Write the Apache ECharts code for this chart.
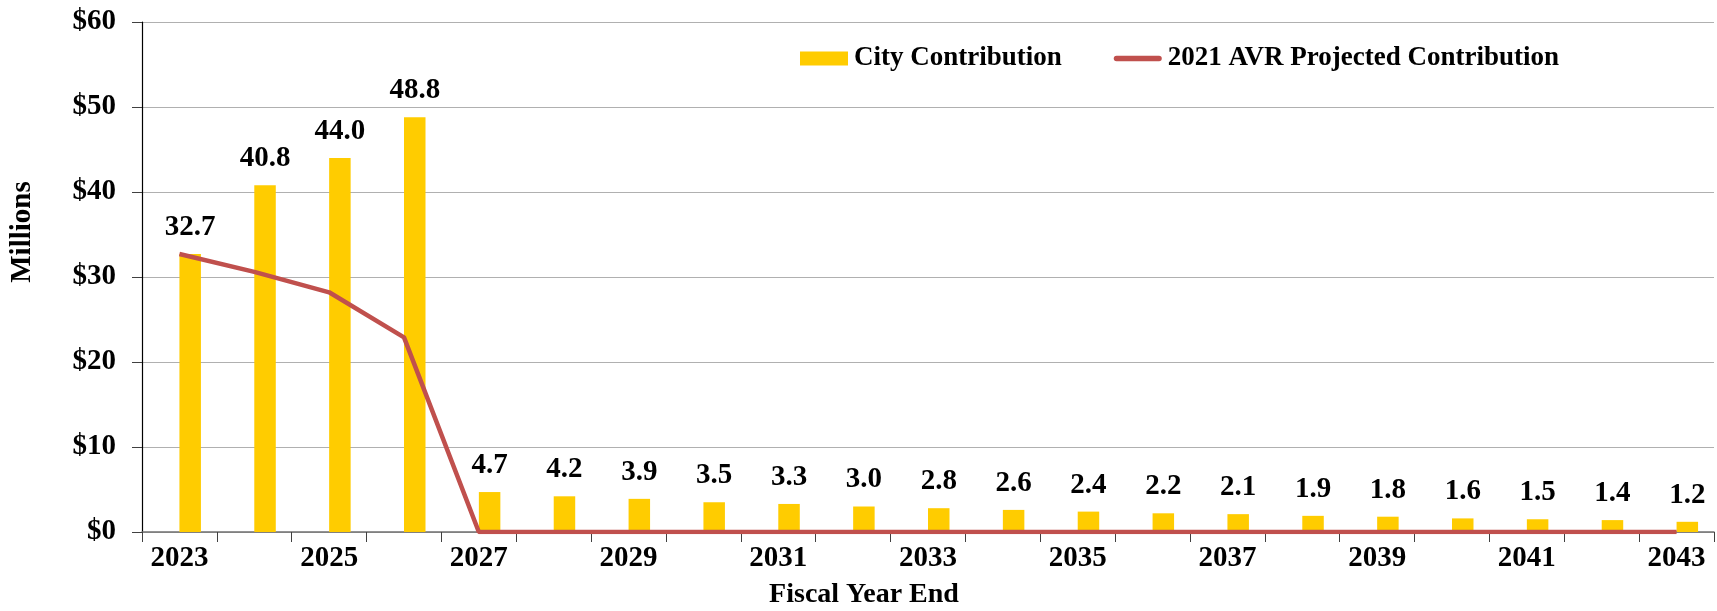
<!DOCTYPE html>
<html>
<head>
<meta charset="utf-8">
<title>City Contribution</title>
<script src="https://cdn.jsdelivr.net/npm/echarts@6/dist/echarts.min.js"></script>
<style>
  html, body { margin: 0; padding: 0; background: #fff; }
  #main { width: 1717px; height: 611px; }
</style>
</head>
<body>
<div id="main"></div>
<script type="text/javascript">
// fiscal years and values (millions)
var years = ['2023','2024','2025','2026','2027','2028','2029','2030','2031','2032','2033',
             '2034','2035','2036','2037','2038','2039','2040','2041','2042','2043'];
var cityContribution = [32.7, 40.8, 44.0, 48.8, 4.7, 4.2, 3.9, 3.5, 3.3, 3.0, 2.8,
                        2.6, 2.4, 2.2, 2.1, 1.9, 1.8, 1.6, 1.5, 1.4, 1.2];
var avrProjected = [32.7, 30.6, 28.2, 22.9, 0, 0, 0, 0, 0, 0, 0,
                    0, 0, 0, 0, 0, 0, 0, 0, 0, 0];
// empty slot so the yellow bars sit right of the category centre
var spacer = years.map(function () { return 0; });
var yTicks = [0, 10, 20, 30, 40, 50, 60];

var font = 'Liberation Serif, Times New Roman, serif';
var myChart = echarts.init(document.getElementById('main'));

var option = {
    animation: false,
    grid: { left: 142, right: 3, top: 22, bottom: 79 },
    legend: {
        data: [
            { name: 'City Contribution', icon: 'rect' },
            { name: '2021 AVR Projected Contribution',
              icon: 'path://M3,0 L49,0 A3,3 0 0 1 49,6 L3,6 A3,3 0 0 1 3,0 Z' }
        ],
        left: 795,
        top: 40,
        itemWidth: 48,
        itemHeight: 14,
        itemGap: 52,
        textStyle: { fontFamily: font, fontWeight: 'bold', fontSize: 27, color: '#000', padding: [0, 0, 0, 1] }
    },
    xAxis: {
        type: 'category',
        data: years,
        axisLine: { lineStyle: { color: '#707070', width: 1.5 } },
        axisTick: { show: true, interval: 0, length: 10, lineStyle: { color: '#404040' } },
        axisLabel: {
            interval: 1,
            margin: 12,
            fontFamily: font, fontWeight: 'bold', fontSize: 29, color: '#000'
        }
    },
    yAxis: {
        type: 'value',
        min: yTicks[0],
        max: yTicks[yTicks.length - 1],
        interval: 10,
        axisLine: { show: true, lineStyle: { color: '#000', width: 1.2 } },
        axisTick: { show: true, length: 10, lineStyle: { color: '#404040' } },
        splitLine: { lineStyle: { color: '#b0b0b0', width: 1.2 } },
        axisLabel: {
            margin: 26,
            formatter: '${value}',
            fontFamily: font, fontWeight: 'bold', fontSize: 29, color: '#000'
        }
    },
    graphic: [
        {
            type: 'text', x: 23, y: 232, rotation: Math.PI / 2,
            style: { text: 'Millions', font: 'bold 29px ' + font, fill: '#000',
                     align: 'center', verticalAlign: 'middle' }
        },
        {
            type: 'text', x: 864, y: 595,
            style: { text: 'Fiscal Year End', font: 'bold 28px ' + font, fill: '#000',
                     align: 'center', verticalAlign: 'middle' }
        }
    ],
    series: [
        {
            name: 'spacer',
            type: 'bar',
            data: spacer,
            barWidth: 21.5,
            barGap: '0%',
            silent: true,
            itemStyle: { color: 'transparent' }
        },
        {
            name: 'City Contribution',
            type: 'bar',
            data: cityContribution,
            barWidth: 21.5,
            barGap: '0%',
            itemStyle: { color: '#FFCC00' },
            label: {
                show: true,
                position: 'top',
                distance: 12,
                formatter: function (p) { return p.value.toFixed(1); },
                fontFamily: font, fontWeight: 'bold', fontSize: 29, color: '#000'
            }
        },
        {
            name: '2021 AVR Projected Contribution',
            type: 'line',
            data: avrProjected,
            symbol: 'none',
            lineStyle: { color: '#C0504D', width: 4.5 },
            itemStyle: { color: '#C0504D' },
            z: 3
        }
    ]
};
myChart.setOption(option);
</script>
</body>
</html>
